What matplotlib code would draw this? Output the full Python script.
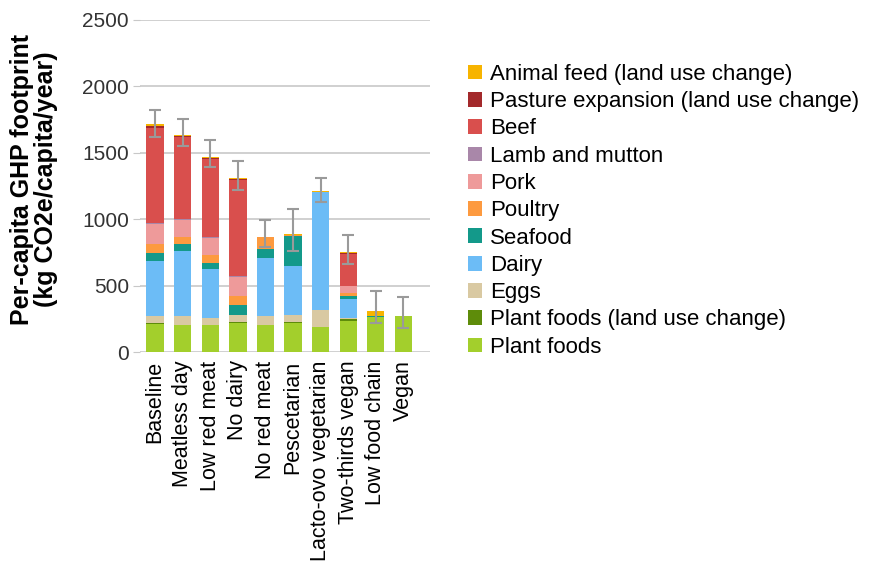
import numpy as np
import matplotlib
matplotlib.use('Agg')
import matplotlib.pyplot as plt
from matplotlib.patches import Patch

plt.rcParams['font.family'] = ['Liberation Sans', 'DejaVu Sans']

diets = ['Baseline', 'Meatless day', 'Low red meat', 'No dairy', 'No red meat',
         'Pescetarian', 'Lacto-ovo vegetarian', 'Two-thirds vegan',
         'Low food chain', 'Vegan']

# segment heights, kg CO2e/capita/year (stacked bottom -> top)
plant_foods   = [214, 202, 202, 222, 202, 222, 189, 234, 264, 270]
plant_luc     = [2, 2, 2, 2, 2, 2, 2, 15, 0, 2]
eggs          = [55, 66, 55, 58, 66, 58, 126, 10, 0, 0]
dairy         = [414, 488, 366, 0, 440, 368, 885, 144, 0, 0]
seafood       = [61, 58, 48, 76, 68, 227, 0, 20, 11, 0]
poultry       = [70, 48, 60, 65, 86, 7, 0, 23, 0, 0]
pork          = [149, 131, 128, 144, 0, 0, 0, 50, 0, 0]
lamb          = [5, 4, 2, 5, 0, 0, 0, 0, 0, 0]
beef          = [718, 618, 590, 720, 0, 0, 0, 240, 0, 0]
pasture_luc   = [17, 10, 8, 10, 0, 0, 0, 7, 0, 0]
feed_luc      = [8, 8, 8, 10, 5, 8, 12, 8, 37, 0]

err_low  = [96, 86, 79, 90, 76, 129, 83, 91, 90, 88]
err_high = [108, 116, 126, 129, 126, 184, 96, 133, 149, 139]

series = [
    ('Plant foods', plant_foods, '#a3cf2c'),
    ('Plant foods (land use change)', plant_luc, '#5e8c0a'),
    ('Eggs', eggs, '#d9c9a2'),
    ('Dairy', dairy, '#6cbcf6'),
    ('Seafood', seafood, '#13998a'),
    ('Poultry', poultry, '#fd9a3f'),
    ('Pork', pork, '#ee9a9a'),
    ('Lamb and mutton', lamb, '#a987a9'),
    ('Beef', beef, '#d94f4d'),
    ('Pasture expansion (land use change)', pasture_luc, '#a3292b'),
    ('Animal feed (land use change)', feed_luc, '#f7b400'),
]

fig = plt.figure(figsize=(8.69, 5.67), dpi=100)
ax = fig.add_axes([0.161, 0.379, 0.334, 0.586])

x = np.arange(len(diets))
bottom = np.zeros(len(diets))
for name, vals, col in series:
    ax.bar(x, vals, 0.63, bottom=bottom, color=col, zorder=2)
    bottom += np.array(vals)

ax.errorbar(x, bottom, yerr=[err_low, err_high], fmt='none', ecolor='#9a9a9a',
            elinewidth=1.5, capsize=4, capthick=1.5, zorder=3)

ax.set_xlim(-0.55, 9.97)
ax.set_ylim(0, 2500)
ax.set_yticks(range(0, 2501, 500))
ax.yaxis.grid(True, color='#c8c8c8', linewidth=1.2, zorder=0)
ax.set_axisbelow(True)
for s in ax.spines.values():
    s.set_visible(False)
ax.tick_params(axis='y', length=5, color='#c8c8c8', labelsize=15, labelcolor='#333333', pad=3)
ax.tick_params(axis='x', length=0, pad=6)
ax.set_xticks(x)
ax.set_xticklabels(diets, rotation=90, fontsize=15.5, va='top', ha='center')
ax.set_ylabel('Per-capita GHP footprint\n(kg CO2e/capita/year)', fontsize=18,
              fontweight='bold', linespacing=1.0)
ax.yaxis.set_label_coords(-0.283, 0.52)

handles = [Patch(facecolor=col, label=name) for name, vals, col in series[::-1]]
fig.legend(handles=handles, loc='upper left', bbox_to_anchor=(0.528, 0.903),
           frameon=False, fontsize=16, handlelength=0.65, handleheight=0.65,
           handletextpad=0.36, labelspacing=0.283, borderaxespad=0)

fig.savefig('out.png', dpi=100)
